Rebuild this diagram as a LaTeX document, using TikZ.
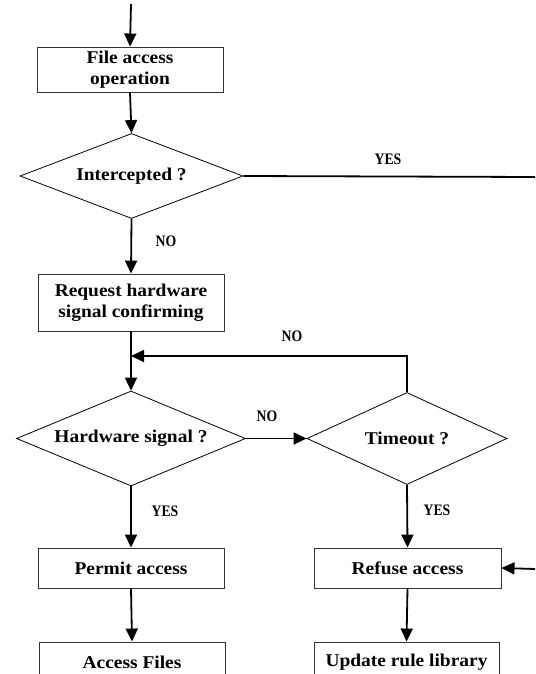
\documentclass[tikz,border=0pt]{standalone}
\usepackage{fontspec}
\setmainfont{Liberation Serif}
\newfontfamily\boxfont[FakeStretch=1.08]{Liberation Serif}
\newfontfamily\labfont[FakeStretch=0.86]{Liberation Serif}
\usetikzlibrary{shapes.geometric,arrows.meta}
\begin{document}
\begin{tikzpicture}[x=1pt,y=-1pt,
  every node/.style={inner sep=0pt},
  procbox/.style={draw=black!80,line width=0.9pt,rectangle,align=center,
     font=\boxfont\fontsize{18}{21}\selectfont\bfseries},
  decision/.style={draw=black,line width=0.8pt,diamond,aspect=2.6,
     font=\boxfont\fontsize{18}{21}\selectfont\bfseries},
  conn/.style={line width=1.8pt,draw=black},
  arr/.style={conn,-{Triangle[length=13pt,width=12pt]}},
  lab/.style={font=\labfont\fontsize{16}{18}\selectfont\bfseries}]
\useasboundingbox (0,0) rectangle (535,674);
\begin{scope}
\clip (0,0) rectangle (535,674);
\coordinate (start) at (131,4);
\coordinate (yesend) at (535,177);
\coordinate (refin) at (535,569);
\coordinate (m) at (131,356);

\node[procbox,minimum width=186pt,minimum height=45pt] (b1) at (130,69.5) {File access\\operation};
\node[decision,minimum width=223pt,minimum height=85pt] (d1) at (131.5,176) {Intercepted ?};
\node[procbox,minimum width=186pt,minimum height=57pt] (b2) at (131,302.5) {Request hardware\\signal confirming};
\node[decision,minimum width=229pt,minimum height=95pt] (d2) at (131,438.5) {Hardware signal ?};
\node[decision,minimum width=200pt,minimum height=92pt] (d3) at (407,438.5) {Timeout ?};
\node[procbox,minimum width=186pt,minimum height=40pt] (b3) at (131,568) {Permit access};
\node[procbox,minimum width=187pt,minimum height=40pt] (b4) at (407.5,568) {Refuse access};
\node[procbox,minimum width=186pt,minimum height=40pt] (b5) at (132,662) {Access Files};
\node[procbox,minimum width=185pt,minimum height=40pt] (b6) at (406.5,662) {Update rule library};

\draw[arr] (start) -- (b1.north);
\draw[arr] (b1.south) -- (d1.north);
\draw[conn] (d1.east) -- (yesend);
\draw[arr] (d1.south) -- (b2.north);
\draw[arr] (b2.south) -- (d2.north);
\draw[arr] (d3.north) |- (m);
\draw[arr] (d2.east) -- (d3.west);
\draw[arr] (d2.south) -- (b3.north);
\draw[arr] (d3.south) -- (b4.north);
\draw[arr] (b3.south) -- (b5.north);
\draw[arr] (b4.south) -- (b6.north);
\draw[arr] (refin) -- (b4.east);

\node[lab] (lyes1) at (388,159) {YES};
\node[lab] (lno1) at (166,241) {NO};
\node[lab] (lno2) at (292,336) {NO};
\node[lab] (lno3) at (267,416) {NO};
\node[lab] (lyes2) at (165,511) {YES};
\node[lab] (lyes3) at (437,510) {YES};
\end{scope}
\end{tikzpicture}
\end{document}
